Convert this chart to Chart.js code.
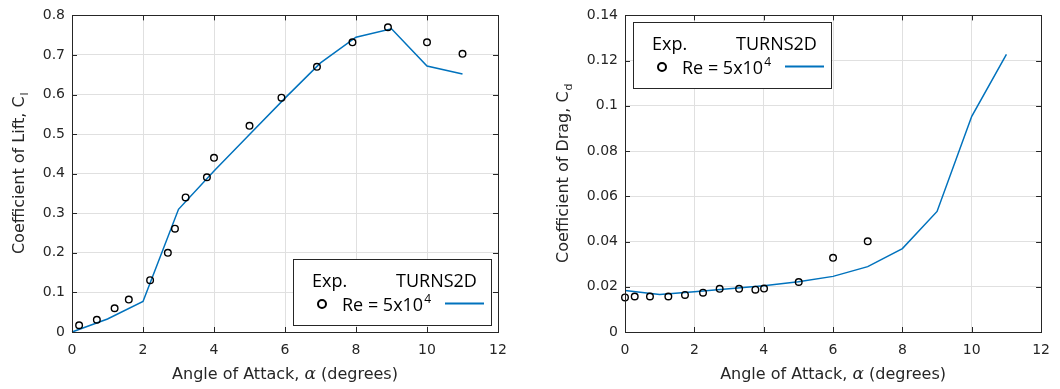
<!DOCTYPE html>
<html>
<head>
<meta charset="utf-8">
<script src="https://cdn.jsdelivr.net/npm/chart.js@4.4.0/dist/chart.umd.min.js"></script>
<style>
  html, body { margin: 0; padding: 0; background: #fff; }
  #wrap { position: relative; width: 1060px; height: 389px; }
  .pane { position: absolute; top: 0; width: 530px; height: 389px; }
</style>
</head>
<body>
<div id="wrap">
  <div class="pane" style="left:0"><canvas id="liftChart" width="530" height="389"></canvas></div>
  <div class="pane" style="left:530px"><canvas id="dragChart" width="530" height="389"></canvas></div>
</div>
<script>
// lift coefficient, experiment (circles) and TURNS2D (line)
const liftExpAlpha = [0.2, 0.7, 1.2, 1.6, 2.2, 2.7, 2.9, 3.2, 3.8, 4.0, 5.0, 5.9, 6.9, 7.9, 8.9, 10, 11];
const liftExpCl    = [0.017, 0.031, 0.06, 0.082, 0.131, 0.2, 0.261, 0.34, 0.391, 0.44, 0.521, 0.592, 0.67, 0.732, 0.77, 0.732, 0.703];
const liftCfdAlpha = [0, 1, 2, 3, 4, 5, 6, 7, 8, 9, 10, 11];
const liftCfdCl    = [0, 0.033, 0.077, 0.31, 0.407, 0.499, 0.591, 0.68, 0.745, 0.766, 0.672, 0.652];

// drag coefficient
const dragExpAlpha = [0, 0.28, 0.72, 1.25, 1.73, 2.25, 2.73, 3.29, 3.76, 4.01, 5.01, 6, 7];
const dragExpCd    = [0.0153, 0.0157, 0.0157, 0.0157, 0.0164, 0.0174, 0.0191, 0.0191, 0.0187, 0.0192, 0.0221, 0.0328, 0.0401];
const dragCfdAlpha = [0, 1, 2, 3, 4, 5, 6, 7, 8, 9, 10, 11];
const dragCfdCd    = [0.0183, 0.0166, 0.0178, 0.0191, 0.0204, 0.0222, 0.0246, 0.0289, 0.0369, 0.0533, 0.0954, 0.1228];

// tick labels
const alphaTicks = [0, 2, 4, 6, 8, 10, 12];
const liftTicks  = [0, 0.1, 0.2, 0.3, 0.4, 0.5, 0.6, 0.7, 0.8];
const dragTicks  = [0, 0.02, 0.04, 0.06, 0.08, 0.1, 0.12, 0.14];

const AXIS_COLOR = '#262626';
const GRID_COLOR = '#e0e0e0';
const LINE_BLUE = '#0072BD';
const TICK_FONT = { family: 'DejaVu Sans', size: 14 };

function toPoints(xs, ys) {
  return xs.map((x, i) => ({ x: x, y: ys[i] }));
}

function drawLegend(ctx, x, y) {
  const w = 198, h = 66;
  ctx.save();
  ctx.fillStyle = '#fff';
  ctx.fillRect(x, y, w, h);
  ctx.strokeStyle = AXIS_COLOR;
  ctx.lineWidth = 1;
  ctx.strokeRect(x + 0.5, y + 0.5, w, h);

  ctx.fillStyle = '#000';
  ctx.textAlign = 'left';
  ctx.textBaseline = 'alphabetic';
  ctx.font = '18px "Open Sans"';
  ctx.fillText('Exp.', x + 19, y + 28);
  ctx.fillText('TURNS2D', x + 103, y + 28);

  ctx.fillText('Re = 5x10', x + 49, y + 52);
  const rw = ctx.measureText('Re = 5x10').width;
  ctx.font = '12px "Open Sans"';
  ctx.fillText('4', x + 49 + rw + 1, y + 44);

  ctx.beginPath();
  ctx.arc(x + 29, y + 45, 4, 0, Math.PI * 2);
  ctx.lineWidth = 2;
  ctx.strokeStyle = '#000';
  ctx.stroke();

  ctx.beginPath();
  ctx.moveTo(x + 152, y + 44.5);
  ctx.lineTo(x + 191, y + 44.5);
  ctx.strokeStyle = LINE_BLUE;
  ctx.lineWidth = 2;
  ctx.stroke();
  ctx.restore();
}

// matlab style box, inward ticks, titles and legend
const matlabFrame = {
  id: 'matlabFrame',
  afterDraw(chart, args, opts) {
    const ctx = chart.ctx;
    const a = chart.chartArea;
    const xs = chart.scales.x, ys = chart.scales.y;
    const tl = 5;
    ctx.save();
    ctx.strokeStyle = AXIS_COLOR;
    ctx.lineWidth = 1;
    ctx.beginPath();
    xs.ticks.forEach(t => {
      const px = Math.round(xs.getPixelForValue(t.value)) + 0.5;
      ctx.moveTo(px, a.bottom); ctx.lineTo(px, a.bottom - tl);
      ctx.moveTo(px, a.top); ctx.lineTo(px, a.top + tl);
    });
    ys.ticks.forEach(t => {
      const py = Math.round(ys.getPixelForValue(t.value)) + 0.5;
      ctx.moveTo(a.left, py); ctx.lineTo(a.left + tl, py);
      ctx.moveTo(a.right, py); ctx.lineTo(a.right - tl, py);
    });
    ctx.stroke();
    ctx.strokeRect(Math.round(a.left) + 0.5, Math.round(a.top) + 0.5,
                   Math.round(a.right - a.left), Math.round(a.bottom - a.top));

    // x title
    ctx.fillStyle = AXIS_COLOR;
    ctx.textBaseline = 'alphabetic';
    ctx.textAlign = 'left';
    const f1 = '16px "DejaVu Sans"', f2 = 'italic 17px "DejaVu Serif"';
    const p1 = 'Angle of Attack, ', p2 = '\u03b1', p3 = ' (degrees)';
    ctx.font = f1;
    const w1 = ctx.measureText(p1).width, w3 = ctx.measureText(p3).width;
    ctx.font = f2;
    const w2 = ctx.measureText(p2).width;
    let sx = (a.left + a.right) / 2 - (w1 + w2 + w3) / 2;
    const by = 379;
    ctx.font = f1; ctx.fillText(p1, sx, by);
    ctx.font = f2; ctx.fillText(p2, sx + w1, by);
    ctx.font = f1; ctx.fillText(p3, sx + w1 + w2, by);

    // y title with subscript
    ctx.translate(opts.yTitleX, (a.top + a.bottom) / 2);
    ctx.rotate(-Math.PI / 2);
    ctx.font = f1;
    const m = ctx.measureText(opts.yTitle).width;
    ctx.font = '11px "DejaVu Sans"';
    const s = ctx.measureText(opts.ySub).width;
    const st = -(m + s) / 2;
    ctx.font = f1; ctx.fillText(opts.yTitle, st, 0);
    ctx.font = '11px "DejaVu Sans"'; ctx.fillText(opts.ySub, st + m + 1, 4);
    ctx.restore();

    if (opts.legend === 'se') {
      drawLegend(ctx, Math.round(a.right) - 7 - 198, Math.round(a.bottom) - 7 - 66);
    } else {
      drawLegend(ctx, Math.round(a.left) + 8, Math.round(a.top) + 7);
    }
  }
};

function makeChart(id, cfg) {
  const ctx = document.getElementById(id).getContext('2d');
  return new Chart(ctx, {
    type: 'scatter',
    data: {
      datasets: [
        {
          label: 'Exp.',
          data: toPoints(cfg.expX, cfg.expY),
          showLine: false,
          pointStyle: 'circle',
          pointRadius: 3.3,
          borderWidth: 1.4,
          borderColor: '#000',
          backgroundColor: 'rgba(0,0,0,0)',
          clip: false
        },
        {
          label: 'TURNS2D',
          data: toPoints(cfg.cfdX, cfg.cfdY),
          showLine: true,
          pointRadius: 0,
          borderColor: LINE_BLUE,
          borderWidth: 1.5,
          tension: 0,
          clip: false
        }
      ]
    },
    options: {
      responsive: false,
      animation: false,
      layout: { padding: { top: cfg.padTop, right: cfg.padRight, left: 0, bottom: 0 } },
      plugins: {
        legend: { display: false },
        tooltip: { enabled: false },
        matlabFrame: { yTitle: cfg.yTitle, ySub: cfg.ySub, yTitleX: cfg.yTitleX, legend: cfg.legend }
      },
      scales: {
        x: {
          type: 'linear',
          min: 0, max: 12,
          afterBuildTicks: scale => { scale.ticks = alphaTicks.map(v => ({ value: v })); },
          afterFit: scale => { scale.height = 57; },
          ticks: { font: TICK_FONT, color: AXIS_COLOR, padding: 10, maxRotation: 0, callback: v => String(v) },
          grid: { color: GRID_COLOR, drawTicks: false },
          border: { display: false }
        },
        y: {
          type: 'linear',
          min: cfg.yMin, max: cfg.yMax,
          afterBuildTicks: scale => { scale.ticks = cfg.yTicks.map(v => ({ value: v })); },
          afterFit: scale => { scale.width = cfg.yAxisWidth; },
          ticks: { font: TICK_FONT, color: AXIS_COLOR, padding: 7, callback: v => String(v) },
          grid: { color: GRID_COLOR, drawTicks: false },
          border: { display: false }
        }
      }
    },
    plugins: [matlabFrame]
  });
}

makeChart('liftChart', {
  expX: liftExpAlpha, expY: liftExpCl,
  cfdX: liftCfdAlpha, cfdY: liftCfdCl,
  yMin: 0, yMax: 0.8, yTicks: liftTicks,
  yAxisWidth: 72, padTop: 12, padRight: 32,
  yTitle: 'Coefficient of Lift, C', ySub: 'l', yTitleX: 24,
  legend: 'se'
});

makeChart('dragChart', {
  expX: dragExpAlpha, expY: dragExpCd,
  cfdX: dragCfdAlpha, cfdY: dragCfdCd,
  yMin: 0, yMax: 0.14, yTicks: dragTicks,
  yAxisWidth: 95, padTop: 11, padRight: 13,
  yTitle: 'Coefficient of Drag, C', ySub: 'd', yTitleX: 38,
  legend: 'nw'
});
</script>
</body>
</html>
